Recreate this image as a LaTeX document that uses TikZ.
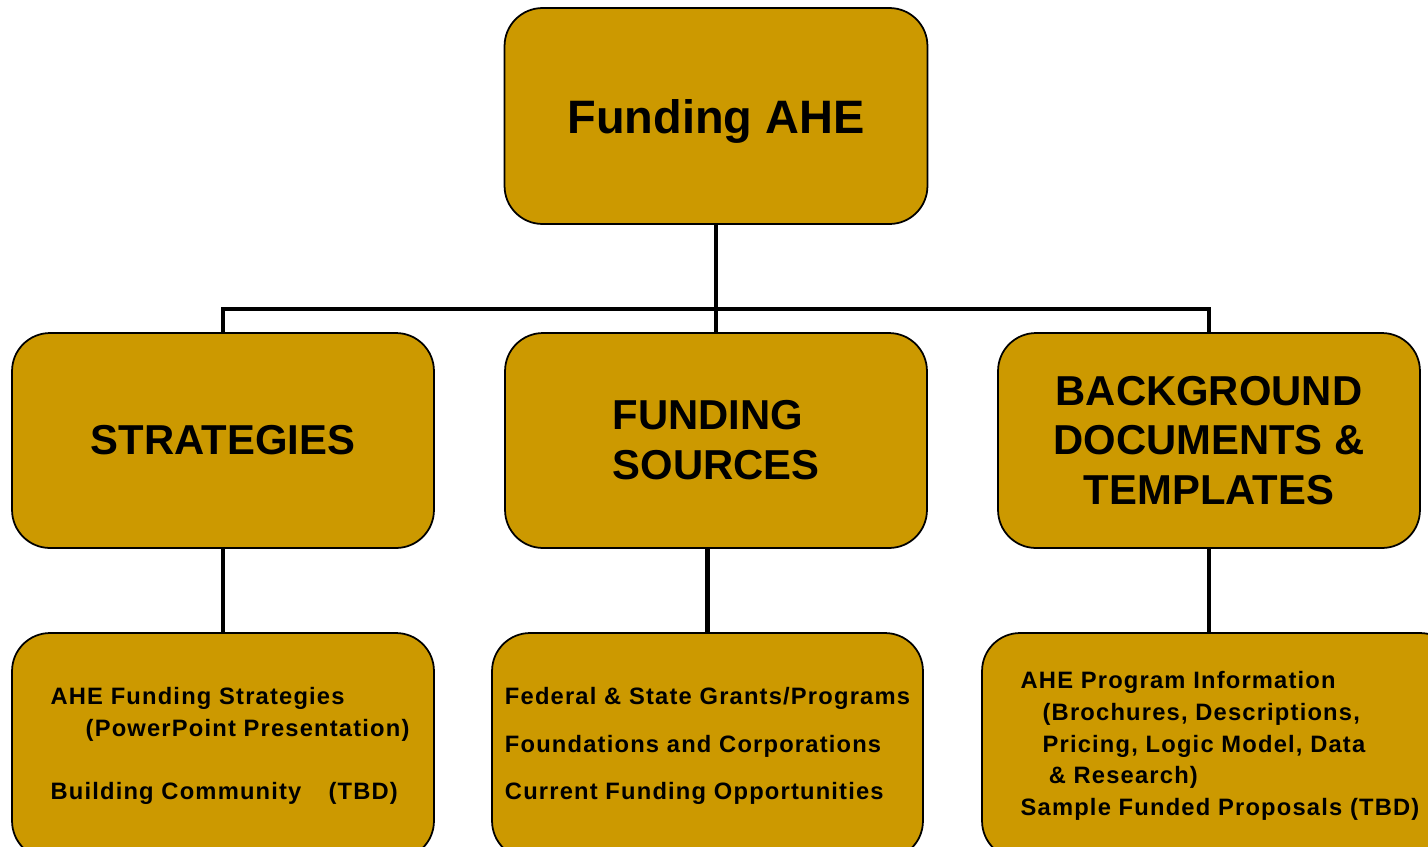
\documentclass[tikz,border=0pt]{standalone}
\usepackage{fontspec}
\setmainfont{Liberation Sans}
\newfontfamily\listfont[LetterSpace=5]{Liberation Sans}
\definecolor{gold}{RGB}{204,153,0}
\begin{document}
\begin{tikzpicture}[x = 0.02cm, y = -0.02cm,
box/.style = {draw, fill = gold, rounded corners = 0.76cm, line width = 1pt, inner sep = 0pt},
head/.style = {box, minimum width = 8.44cm, minimum height = 4.3cm, font = \bfseries\fontsize{23.8}{28.4}\selectfont},
list/.style = {box, minimum height = 4.52cm, align = left, font = \listfont\bfseries\fontsize{13.5}{18.1}\selectfont},
link/.style = {line width = 2.8pt}]
\useasboundingbox (0,0) rectangle (1428,846);
\clip (0,0) rectangle (1428,846);
\node [box, minimum width = 8.46cm, minimum height = 4.32cm, text depth = 0pt, font = \bfseries\fontsize{26.7}{32}\selectfont] (funding) at (716,116) {Funding AHE};
\node [head] (strategies) at (223,440.5) {STRATEGIES};
\node [head, align = left] (sources) at (716,440.5) {FUNDING\\SOURCES};
\node [head, align = center] (documents) at (1209,440.5) {BACKGROUND\\DOCUMENTS \&\\TEMPLATES};
\node [list, minimum width = 8.44cm] (stratlist) at (223,746) {\hspace*{8pt}AHE Funding Strategies\\
\hspace*{28pt}(PowerPoint Presentation)\\[18.1pt]
\hspace*{8pt}Building Community\hspace{11pt} (TBD)};
\node [list, minimum width = 8.62cm, font = \listfont\bfseries\fontsize{13.5}{27.2}\selectfont] (sourcelist) at (707.5,746) {Federal \& State Grants/Programs\\
Foundations and Corporations\\
Current Funding Opportunities};
\node [list, minimum width = 9.52cm] (doclist) at (1220,746) {AHE Program Information\\
\hspace*{12.5pt}(Brochures, Descriptions,\\
\hspace*{12.5pt}Pricing, Logic Model, Data\\
\hspace*{16pt}\& Research)\\
Sample Funded Proposals (TBD)};
\coordinate (bus) at (716,309);
\draw [link] (funding.south) -- (sources.north);
\draw [link] (strategies.north) |- (bus) -| (documents.north);
\draw [link] (strategies.south) -- (stratlist.north);
\draw [link] (sourcelist.north) -- (sourcelist.north |- sources.south);
\draw [link] (documents.south) -- (documents.south |- doclist.north);
\end{tikzpicture}
\end{document}
